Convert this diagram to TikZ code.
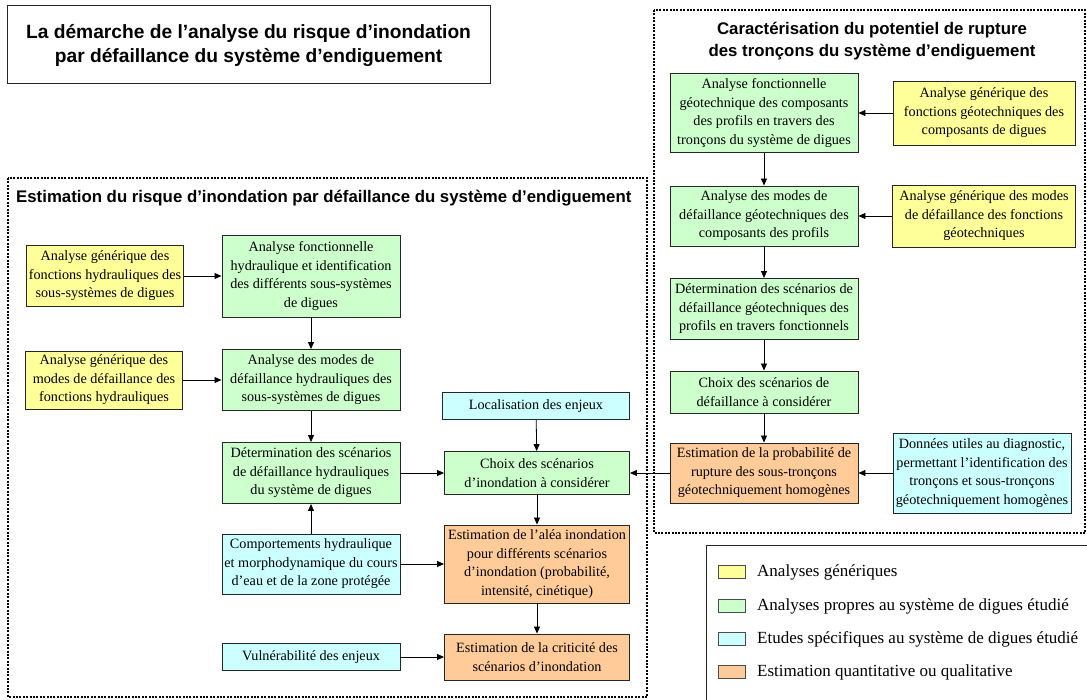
\documentclass[tikz,border=0pt]{standalone}
\usepackage{fontspec}
\setmainfont{Liberation Serif}
\newfontfamily\hfont{Liberation Sans}
\usetikzlibrary{arrows.meta}
\definecolor{cyel}{HTML}{FFFF99}
\definecolor{cgrn}{HTML}{CCFFCC}
\definecolor{ccya}{HTML}{CCFFFF}
\definecolor{cora}{HTML}{FFCC99}
\begin{document}
\begin{tikzpicture}[x=1pt,y=-1pt,
  box/.style={draw=black!85, line width=0.9pt, align=center, inner sep=0pt,
    font=\fontsize{14.2}{18.5}\selectfont},
  gbox/.style={box, fill=cgrn},
  ybox/.style={box, fill=cyel},
  cbox/.style={box, fill=ccya},
  obox/.style={box, fill=cora},
  arr/.style={-{Triangle[length=7pt,width=6pt]}, line width=0.8pt},
  frm/.style={line width=2.2pt, dash pattern=on 2pt off 1.4pt},
  htitle/.style={font=\hfont\bfseries\fontsize{16.8}{22}\selectfont, align=center, inner sep=0pt},
  legsq/.style={draw=black!70, line width=0.8pt, minimum width=27, minimum height=13, inner sep=0pt},
  legtx/.style={anchor=west, font=\fontsize{17}{20}\selectfont, inner sep=0pt}]
\useasboundingbox (0,0) rectangle (1087,700);
\fill[white] (0,0) rectangle (1087,700);

% main title
\node[draw=black!85, line width=1pt, minimum width=483, minimum height=78, inner sep=0pt,
  align=center, font=\hfont\bfseries\fontsize{19.2}{24}\selectfont] (title) at (248.5,45)
  {La démarche de l’analyse du risque d’inondation\\par défaillance du système d’endiguement};

% frames
\draw[frm] (654,10) rectangle (1085,533);
\draw[frm] (8,178) rectangle (647,697);
\node[htitle] (rtitle) at (872,41) {Caractérisation du potentiel de rupture\\des tronçons du système d’endiguement};
\node[htitle, anchor=west] (ltitle) at (16,198) {Estimation du risque d’inondation par défaillance du système d’endiguement};

% right column
\node[gbox, minimum width=188, minimum height=79] (r1) at (764,113)
  {Analyse fonctionnelle\\géotechnique des composants\\des profils en travers des\\tronçons du système de digues};
\node[ybox, minimum width=182, minimum height=64] (r1y) at (984,113)
  {Analyse générique des\\fonctions géotechniques des\\composants de digues};
\node[gbox, minimum width=188, minimum height=60] (r2) at (764,216)
  {Analyse des modes de\\défaillance géotechniques des\\composants des profils};
\node[ybox, minimum width=183, minimum height=62] (r2y) at (984,216)
  {Analyse générique des modes\\de défaillance des fonctions\\géotechniques};
\node[gbox, minimum width=188, minimum height=61] (r3) at (764,309)
  {Détermination des scénarios de\\défaillance géotechniques des\\profils en travers fonctionnels};
\node[gbox, minimum width=188, minimum height=42] (r4) at (764,392)
  {Choix des scénarios de\\défaillance à considérer};
\node[obox, minimum width=188, minimum height=60] (r5) at (764,473)
  {Estimation de la probabilité de\\rupture des sous-tronçons\\géotechniquement homogènes};
\node[cbox, minimum width=178, minimum height=80] (r5c) at (982,473)
  {Données utiles au diagnostic,\\permettant l’identification des\\tronçons et sous-tronçons\\géotechniquement homogènes};

% left column
\node[ybox, minimum width=157, minimum height=61] (l1y) at (105,276)
  {Analyse générique des\\fonctions hydrauliques des\\sous-systèmes de digues};
\node[gbox, minimum width=178, minimum height=82] (l1g) at (311,276)
  {Analyse fonctionnelle\\hydraulique et identification\\des différents sous-systèmes\\de digues};
\node[ybox, minimum width=157, minimum height=58] (l2y) at (104,380)
  {Analyse générique des\\modes de défaillance des\\fonctions hydrauliques};
\node[gbox, minimum width=178, minimum height=61] (l2g) at (311,380)
  {Analyse des modes de\\défaillance hydrauliques des\\sous-systèmes de digues};
\node[gbox, minimum width=178, minimum height=61] (l3g) at (311,473)
  {Détermination des scénarios\\de défaillance hydrauliques\\du système de digues};
\node[cbox, minimum width=178, minimum height=60] (l4c) at (311,564)
  {Comportements hydraulique\\et morphodynamique du cours\\d’eau et de la zone protégée};
\node[cbox, minimum width=178, minimum height=27] (l5c) at (311,657)
  {Vulnérabilité des enjeux};

% middle column
\node[cbox, minimum width=187, minimum height=27] (m0c) at (536,406)
  {Localisation des enjeux};
\node[gbox, minimum width=185, minimum height=43] (m1g) at (537,473)
  {Choix des scénarios\\d’inondation à considérer};
\node[obox, minimum width=185, minimum height=78] (m2o) at (537,564)
  {Estimation de l’aléa inondation\\pour différents scénarios\\d’inondation (probabilité,\\intensité, cinétique)};
\node[obox, minimum width=185, minimum height=46] (m3o) at (537,657)
  {Estimation de la criticité des\\scénarios d’inondation};

% arrows right
\draw[arr] (r1) -- (r2);
\draw[arr] (r2) -- (r3);
\draw[arr] (r3) -- (r4);
\draw[arr] (r4) -- (r5);
\draw[arr] (r1y) -- (r1);
\draw[arr] (r2y) -- (r2);
\draw[arr] (r5c) -- (r5);
\draw[arr] (r5) -- (m1g);

% arrows left
\draw[arr] (l1y) -- (l1g);
\draw[arr] (l2y) -- (l2g);
\draw[arr] (l1g) -- (l2g);
\draw[arr] (l2g) -- (l3g);
\draw[arr] (l4c) -- (l3g);
\draw[arr] (l3g) -- (m1g);
\draw[arr] (m0c) -- (m1g);
\draw[arr] (m1g) -- (m2o);
\draw[arr] (l4c) -- (m2o);
\draw[arr] (m2o) -- (m3o);
\draw[arr] (l5c) -- (m3o);

% legend
\draw[line width=0.9pt, draw=black!85] (1087,545) -- (706,545) -- (706,700);
\node[legsq, fill=cyel] (q1) at (731.5,572) {};
\node[legsq, fill=cgrn] (q2) at (731.5,606) {};
\node[legsq, fill=ccya] (q3) at (731.5,639) {};
\node[legsq, fill=cora] (q4) at (731.5,672) {};
\node[legtx] (t1) at (757,572) {Analyses génériques};
\node[legtx] (t2) at (757,606) {Analyses propres au système de digues étudié};
\node[legtx] (t3) at (757,639) {Etudes spécifiques au système de digues étudié};
\node[legtx] (t4) at (757,672) {Estimation quantitative ou qualitative};
\end{tikzpicture}
\end{document}
